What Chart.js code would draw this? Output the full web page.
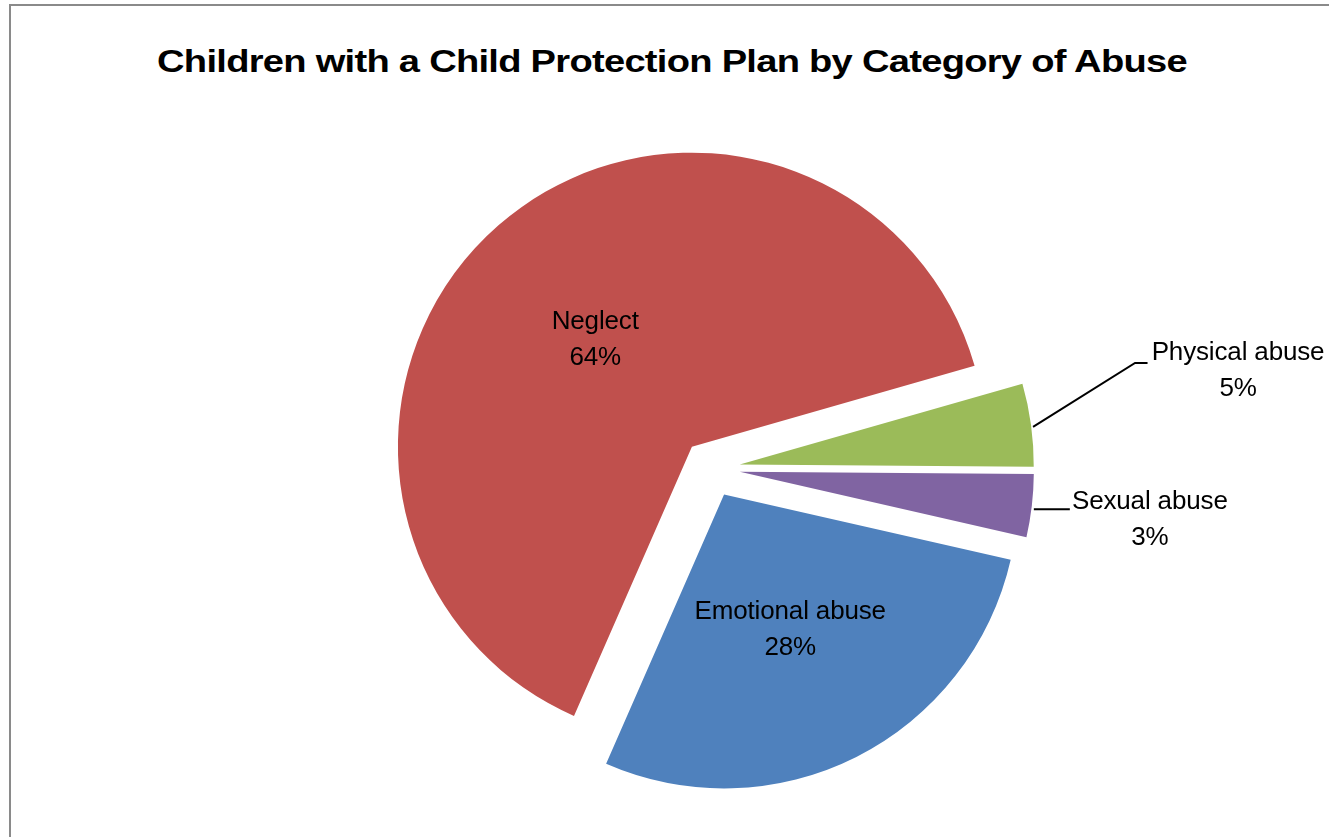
<!DOCTYPE html>
<html>
<head>
<meta charset="utf-8">
<script src="https://cdn.jsdelivr.net/npm/chart.js@4/dist/chart.umd.min.js"></script>
<style>
  html, body { margin: 0; padding: 0; background: #ffffff; }
  body { width: 1329px; height: 837px; position: relative; overflow: hidden; }
  #frame { position: absolute; left: 9px; top: 4px; width: 1400px; height: 900px;
           border-top: 2px solid #8a8a8a; border-left: 2px solid #8a8a8a; box-sizing: border-box; }
  #title { position: absolute; left: 0; top: 45px; width: 1344px; text-align: center;
           font-family: "Liberation Sans", Arial, sans-serif; font-weight: bold; font-size: 32px;
           line-height: 32px; letter-spacing: -0.6px; color: #000; white-space: nowrap;
           transform: scaleX(1.19); transform-origin: 672px 50%; }
  #wrap { position: absolute; left: 0; top: 0; width: 1329px; height: 837px; }
</style>
</head>
<body>
<div id="frame"></div>
<div id="title">Children with a Child Protection Plan by Category of Abuse</div>
<div id="wrap"><canvas id="c" width="1329" height="837"></canvas></div>
<script>
// ---- data ----
const categories = ["Emotional abuse", "Neglect", "Physical abuse", "Sexual abuse"];
const percentValues = [28.0, 64.0, 4.55, 3.45];
const sliceColors = ["#4F81BD", "#C0504D", "#9BBB59", "#8064A2"];

// ---- style / layout constants ----
const EXPLODE = 29;          // px each slice is pulled out from the centre
const RADIUS = 294;
const LABEL_FONT = '26px "Liberation Sans", Arial, sans-serif';
const LINE_GAP = 36;

const total = percentValues.reduce((a, b) => a + b, 0);
function pctText(v) { return Math.round(v / total * 100) + "%"; }

const labelMode = ["inside", "inside", "outside", "outside"];
const outsideStyle = {
  2: { path: [[102, -64], [114.5, -64]], text: [205, -74] },
  3: { path: [[36, 0]], text: [116, -8] }
};

const explodePlugin = {
  id: 'explode',
  beforeDatasetDraw(chart, args) {
    const ctx = chart.ctx;
    args.meta.data.forEach((el) => {
      const mid = (el.startAngle + el.endAngle) / 2;
      ctx.save();
      ctx.translate(Math.cos(mid) * EXPLODE, Math.sin(mid) * EXPLODE);
      el.draw(ctx);
      ctx.restore();
    });
    return false;
  },
  afterDatasetsDraw(chart) {
    const ctx = chart.ctx;
    const meta = chart.getDatasetMeta(0);
    ctx.save();
    ctx.font = LABEL_FONT;
    if ('letterSpacing' in ctx) ctx.letterSpacing = '-0.15px';
    ctx.fillStyle = '#000';
    ctx.textAlign = 'center';
    ctx.textBaseline = 'middle';
    meta.data.forEach((el, i) => {
      const mid = (el.startAngle + el.endAngle) / 2;
      const lines = [categories[i], pctText(percentValues[i])];
      if (labelMode[i] === 'inside') {
        const d = EXPLODE + el.outerRadius * 0.5;
        const cx = el.x + Math.cos(mid) * d;
        const cy = el.y + Math.sin(mid) * d + 4;
        ctx.fillText(lines[0], cx, cy - LINE_GAP / 2);
        ctx.fillText(lines[1], cx, cy + LINE_GAP / 2);
      } else {
        const st = outsideStyle[i];
        const d = EXPLODE + el.outerRadius;
        const ex = el.x + Math.cos(mid) * d + 2;
        const ey = el.y + Math.sin(mid) * d + (i === 3 ? 3.5 : 2);
        ctx.beginPath();
        ctx.lineWidth = 2;
        ctx.strokeStyle = '#000';
        ctx.moveTo(ex, ey);
        st.path.forEach(p => ctx.lineTo(ex + p[0], ey + p[1]));
        ctx.stroke();
        const tx = ex + st.text[0];
        const ty = ey + st.text[1];
        ctx.fillText(lines[0], tx, ty);
        ctx.fillText(lines[1], tx, ty + LINE_GAP);
      }
    });
    ctx.restore();
  }
};

new Chart(document.getElementById('c'), {
  type: 'pie',
  data: {
    labels: categories,
    datasets: [{
      data: percentValues,
      backgroundColor: sliceColors,
      borderWidth: 0,
      radius: RADIUS,
      offset: 0
    }]
  },
  options: {
    responsive: false,
    animation: false,
    rotation: 102.85,
    layout: { padding: { left: 93, right: 0, top: 100, bottom: 0 } },
    plugins: {
      legend: { display: false },
      tooltip: { enabled: false },
      title: { display: false }
    },
    events: []
  },
  plugins: [explodePlugin]
});
</script>
</body>
</html>
